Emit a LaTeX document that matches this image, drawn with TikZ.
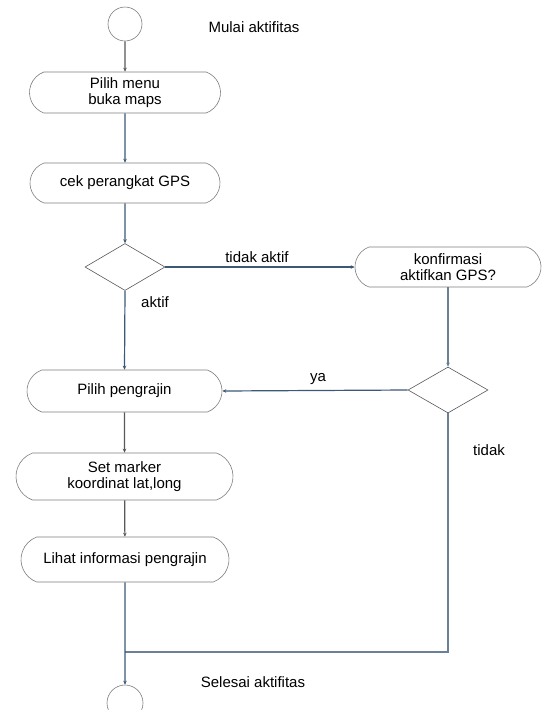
\documentclass[tikz,border=0pt]{standalone}
\usepackage{fontspec}
\setmainfont{Liberation Sans}
\usepackage{tikz}
\usetikzlibrary{shapes, shapes.geometric, shapes.misc, arrows.meta, positioning, calc}
\definecolor{flowblue}{RGB}{60,88,118}
\definecolor{flowgray}{RGB}{88,88,88}
\definecolor{flowpale}{RGB}{105,128,150}
\definecolor{boxline}{RGB}{125,125,125}

\begin{document}
\begin{tikzpicture}[x=1pt, y=-1pt, every node/.style={font=\fontsize{15}{16}\selectfont}]
		\tikzstyle{act}=[draw=boxline, line width=0.6pt, rounded rectangle, rounded rectangle arc length=140, align=center, inner sep=0pt, text=black]
		\tikzstyle{decide}=[draw=flowgray, line width=0.6pt, diamond, inner sep=0pt, minimum width=80pt, minimum height=47pt]
		\tikzstyle{endpt}=[draw=boxline, line width=0.6pt, circle, inner sep=0pt]
		\tikzstyle{lbl}=[text=black, inner sep=0pt]
		\tikzstyle{flow}=[line width=1.2pt, draw=flowblue, -{Stealth[length=4pt, width=3.5pt]}]
		\tikzstyle{flowg}=[flow, draw=flowgray]
		
		\useasboundingbox (0,0) rectangle (542,710);
		
		%% kolom kiri
		\node [endpt, minimum size=34pt] (start) at (125,24) {};
		\node [lbl] (mulai) at (254,27) {Mulai aktifitas};
		\node [act, minimum width=191pt, minimum height=41pt] (menu) at (125,92.5) {Pilih menu\\buka maps};
		\node [act, minimum width=190pt, minimum height=40pt] (cekgps) at (125,183) {cek perangkat GPS};
		\node [decide] (gpsaktif) at (125,267) {};
		\node [act, minimum width=195pt, minimum height=42pt] (pilih) at (124.5,391) {Pilih pengrajin};
		\node [act, minimum width=217pt, minimum height=47pt] (marker) at (124.5,476.5) {Set marker\\koordinat lat,long};
		\node [act, minimum width=208pt, minimum height=45pt] (info) at (125,559.5) {Lihat informasi pengrajin};
		\node [endpt, minimum size=36pt] (selesai) at (125,703) {};
		\node [lbl] (selesaitxt) at (253,682) {Selesai aktifitas};
		
		%% kolom kanan
		\node [act, minimum width=186pt, minimum height=40pt] (konfirm) at (448,267) {konfirmasi\\aktifkan GPS?};
		\node [decide, minimum height=46pt] (jawab) at (448,390) {};
		\coordinate (gabung) at (125,652);
		
		%% panah
		\draw [flowg] (start) -- (menu);
		\draw [flow] (menu) -- (cekgps);
		\draw [flow] (cekgps) -- (gpsaktif);
		\draw [flow] (gpsaktif.east) -- (konfirm.west);
		\node [lbl] (tidakaktif) at (257,257) {tidak aktif};
		\draw [flow] (gpsaktif.south) -- (pilih.north);
		\node [lbl] (aktif) at (155,302) {aktif};
		\draw [flow, draw=flowpale] (konfirm.south) -- (jawab.north);
		\draw [flow] (jawab.west) -- (pilih.east);
		\node [lbl] (ya) at (318,379) {ya};
		\draw [line width=1.2pt, draw=flowpale] (jawab.south) |- (gabung);
		\node [lbl] (tidak) at (489,450) {tidak};
		\draw [flowg] (pilih) -- (marker);
		\draw [flowg] (marker) -- (info);
		\draw [flow] (info) -- (selesai);
		
		\end{tikzpicture}
\end{document}
